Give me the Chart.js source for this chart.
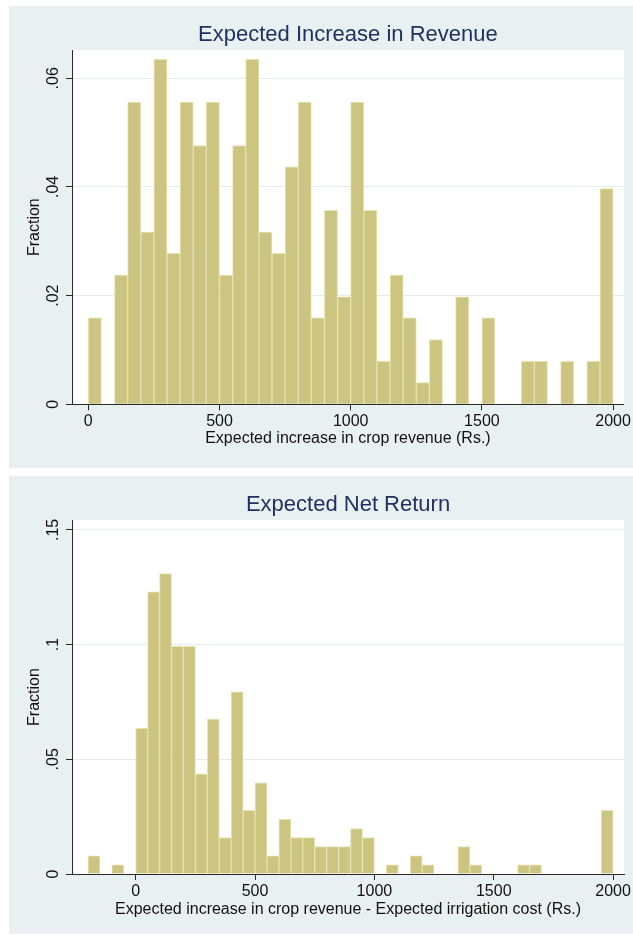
<!DOCTYPE html>
<html>
<head>
<meta charset="utf-8">
<script src="https://cdn.jsdelivr.net/npm/chart.js@4.4.1/dist/chart.umd.min.js"></script>
<style>
  html, body { margin: 0; padding: 0; background: #ffffff; }
  body { width: 633px; height: 935px; position: relative; overflow: hidden; }
  .panel { position: absolute; left: 9px; width: 624px; background: #e9f0f2; }
  #panel-revenue { top: 6px; height: 462px; }
  #panel-net { top: 476px; height: 458px; }
  canvas { display: block; }
</style>
</head>
<body>
<div class="panel" id="panel-revenue"><canvas id="chart-revenue" width="624" height="462"></canvas></div>
<div class="panel" id="panel-net"><canvas id="chart-net" width="624" height="458"></canvas></div>
<script>
// Histogram bins are 50 Rs. wide; each array lists the left edge of every bin.
const BIN_WIDTH = 50;

// Expected increase in crop revenue
const revenueBins = [0, 50, 100, 150, 200, 250, 300, 350, 400, 450,
  500, 550, 600, 650, 700, 750, 800, 850, 900, 950,
  1000, 1050, 1100, 1150, 1200, 1250, 1300, 1350, 1400, 1450,
  1500, 1550, 1600, 1650, 1700, 1750, 1800, 1850, 1900, 1950];
const revenueFraction = [0.0159, 0, 0.0238, 0.0556, 0.0317, 0.0635, 0.0278, 0.0556, 0.0476, 0.0556,
  0.0238, 0.0476, 0.0635, 0.0317, 0.0278, 0.0437, 0.0556, 0.0159, 0.0357, 0.0198,
  0.0556, 0.0357, 0.0079, 0.0238, 0.0159, 0.0040, 0.0119, 0, 0.0198, 0,
  0.0159, 0, 0, 0.0079, 0.0079, 0, 0.0079, 0, 0.0079, 0.0397];
const revenueXTicks = [0, 500, 1000, 1500, 2000];
const revenueXLabels = ['0', '500', '1000', '1500', '2000'];
const revenueYTicks = [0, 0.02, 0.04, 0.06];
const revenueYLabels = ['0', '.02', '.04', '.06'];

// Expected net return (revenue increase minus irrigation cost)
const netBins = [-200, -150, -100, -50, 0, 50, 100, 150, 200, 250,
  300, 350, 400, 450, 500, 550, 600, 650, 700, 750,
  800, 850, 900, 950, 1000, 1050, 1100, 1150, 1200, 1250,
  1300, 1350, 1400, 1450, 1500, 1550, 1600, 1650, 1700, 1750,
  1800, 1850, 1900, 1950];
const netFraction = [0.0079, 0, 0.0040, 0, 0.0635, 0.1230, 0.1310, 0.0992, 0.0992, 0.0437,
  0.0675, 0.0159, 0.0794, 0.0278, 0.0397, 0.0079, 0.0238, 0.0159, 0.0159, 0.0119,
  0.0119, 0.0119, 0.0198, 0.0159, 0, 0.0040, 0, 0.0079, 0.0040, 0,
  0, 0.0119, 0.0040, 0, 0, 0, 0.0040, 0.0040, 0, 0,
  0, 0, 0, 0.0278];
const netXTicks = [0, 500, 1000, 1500, 2000];
const netXLabels = ['0', '500', '1000', '1500', '2000'];
const netYTicks = [0, 0.05, 0.1, 0.15];
const netYLabels = ['0', '.05', '.1', '.15'];

const FONT = '"Liberation Sans", Arial, Helvetica, sans-serif';
const BAR_FILL = 'rgb(204, 196, 129)';
const BAR_EDGE = 'rgb(232, 226, 176)';
const GRID = '#e2ebee';
const AXIS = '#2a2a2a';
const TEXT = '#111111';
const TITLE = '#1f3163';

// White plot region behind the bars
const plotBackground = {
  id: 'plotBackground',
  beforeDraw(chart) {
    const { ctx, chartArea: a } = chart;
    ctx.save();
    ctx.fillStyle = '#ffffff';
    ctx.fillRect(a.left, a.top, a.right - a.left, a.bottom - a.top);
    ctx.restore();
  }
};

// Panel heading, centred over the plot region
const panelTitle = {
  id: 'panelTitle',
  afterDraw(chart, args, opts) {
    const { ctx, chartArea: a } = chart;
    ctx.save();
    ctx.font = opts.size + 'px ' + FONT;
    ctx.fillStyle = TITLE;
    ctx.textAlign = 'center';
    ctx.textBaseline = 'middle';
    ctx.fillText(opts.text, (a.left + a.right) / 2, opts.y);
    ctx.restore();
  }
};

function histogram(canvasId, spec) {
  const points = spec.bins.map((left, i) => ({ x: left + BIN_WIDTH / 2, y: spec.values[i] }));
  return new Chart(document.getElementById(canvasId), {
    type: 'bar',
    data: {
      datasets: [{
        data: points,
        backgroundColor: BAR_FILL,
        borderColor: BAR_EDGE,
        borderWidth: 1,
        borderSkipped: 'bottom',
        barPercentage: 1,
        categoryPercentage: 1
      }]
    },
    plugins: [plotBackground, panelTitle],
    options: {
      responsive: false,
      animation: false,
      layout: { padding: { top: 44, right: 6, bottom: 0, left: 0 } },
      plugins: {
        legend: { display: false },
        tooltip: { enabled: false },
        panelTitle: { text: spec.title, y: 29, size: 22 }
      },
      scales: {
        x: {
          type: 'linear',
          min: spec.xMin,
          max: spec.xMax,
          offset: false,
          afterBuildTicks: (s) => { s.ticks = spec.xTicks.map((v) => ({ value: v })); },
          afterFit: (s) => { s.height = spec.xHeight; },
          grid: { display: true, drawOnChartArea: false, drawTicks: true, tickLength: 6, tickColor: AXIS, offset: false },
          border: { display: true, color: AXIS, width: 1, z: 1 },
          ticks: {
            autoSkip: false, minRotation: 0, maxRotation: 0, padding: 2,
            color: TEXT, font: { family: FONT, size: 16 },
            callback: (v, i) => spec.xLabels[i]
          },
          title: {
            display: true, text: spec.xTitle, color: TEXT,
            font: { family: FONT, size: 16 },
            padding: { top: 0, bottom: spec.xTitlePad }
          }
        },
        y: {
          min: 0,
          max: spec.yMax,
          afterBuildTicks: (s) => { s.ticks = spec.yTicks.map((v) => ({ value: v })); },
          afterFit: (s) => { s.width = 63; },
          grid: {
            color: (c) => (c.tick && c.tick.value === 0 ? 'rgba(0,0,0,0)' : GRID),
            lineWidth: 1, drawTicks: true, tickLength: 6, tickColor: AXIS
          },
          border: { display: true, color: AXIS, width: 1, z: 1 },
          ticks: {
            autoSkip: false, minRotation: 90, maxRotation: 90, crossAlign: 'center', padding: 1,
            color: TEXT, font: { family: FONT, size: 16 },
            callback: (v, i) => spec.yLabels[i]
          },
          title: {
            display: true, text: 'Fraction', color: TEXT,
            font: { family: FONT, size: 16 },
            padding: { top: 16, bottom: 0 }
          }
        }
      }
    }
  });
}

histogram('chart-revenue', {
  title: 'Expected Increase in Revenue',
  bins: revenueBins, values: revenueFraction,
  xMin: -62, xMax: 2041, xTicks: revenueXTicks, xLabels: revenueXLabels,
  yMax: 0.0652, yTicks: revenueYTicks, yLabels: revenueYLabels,
  xTitle: 'Expected increase in crop revenue (Rs.)',
  xHeight: 63.7, xTitlePad: 20
});

histogram('chart-net', {
  title: 'Expected Net Return',
  bins: netBins, values: netFraction,
  xMin: -267, xMax: 2046, xTicks: netXTicks, xLabels: netXLabels,
  yMax: 0.1543, yTicks: netYTicks, yLabels: netYLabels,
  xTitle: 'Expected increase in crop revenue - Expected irrigation cost (Rs.)',
  xHeight: 60, xTitlePad: 15
});
</script>
</body>
</html>
